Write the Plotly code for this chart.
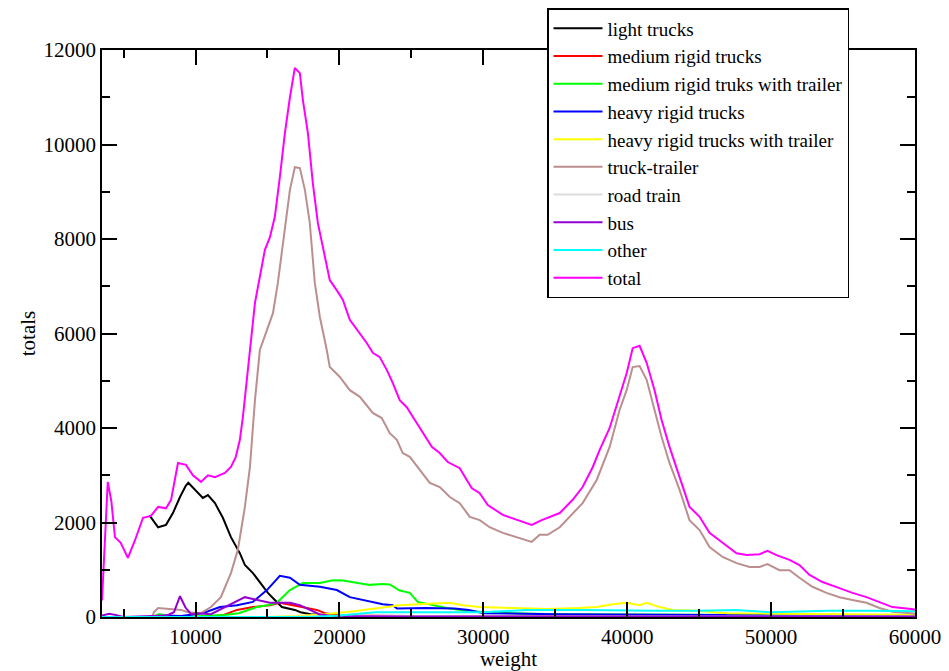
import plotly.graph_objects as go

# ---- data ----
total_w = [3500, 3700, 3900, 4150, 4400, 4800, 5300, 5800, 6350, 6900, 7400, 7950, 8300, 8780, 9330,
           9820, 10380, 10860, 11350, 12040, 12460, 12800, 13080, 13290, 13780, 14130, 14470, 14820,
           15170, 15510, 15860, 16210, 16560, 16900, 17250, 17460, 17810, 18150, 18500, 18990, 19330,
           19890, 20240, 20720, 21420, 21900, 22320, 22800, 23290, 23710, 24190, 24680, 25240, 25790,
           26420, 26970, 27530, 28360, 29190, 29750, 30310, 31350, 32390, 33360, 34060, 35310, 36210,
           36900, 37600, 38080, 38780, 39470, 39960, 40380, 40860, 41350, 41900, 42390, 42940, 43640,
           44330, 45030, 45720, 46630, 47600, 48300, 49200, 49750, 50375, 51280, 51970, 52670, 53570,
           54750, 55650, 56630, 57530, 58430, 59750, 60000]
total_v = [350, 1600, 2860, 2450, 1690, 1570, 1250, 1630, 2100, 2140, 2330, 2300, 2480, 3260, 3220,
           3000, 2860, 3000, 2960, 3050, 3175, 3390, 3750, 4230, 5650, 6650, 7200, 7770,
           8040, 8470, 9310, 10240, 11000, 11620, 11510, 10940, 10240, 9190, 8340, 7620, 7130,
           6880, 6710, 6290, 6010, 5800, 5590, 5500, 5230, 4950, 4590, 4440, 4170, 3890,
           3600, 3470, 3280, 3150, 2730, 2620, 2370, 2160, 2050, 1950, 2050, 2200, 2480,
           2750, 3170, 3530, 4000, 4700, 5160, 5690, 5740, 5380, 4800, 4170, 3600, 2960,
           2330, 2120, 1780, 1570, 1350, 1310, 1330, 1400, 1310, 1210, 1100, 890, 740,
           610, 510, 420, 320, 210, 170, 160]

tt_w = [7000, 7100, 7400, 8000, 9000, 9470, 10380, 11070, 11760, 12460, 12940, 13430, 13780, 14130,
        14470, 14960, 15380, 15720, 16070, 16560, 16900, 17250, 17600, 17940, 18290, 18640, 19120,
        19330, 20030, 20720, 21420, 22320, 22940, 23500, 23990, 24400, 24890, 25580, 26280, 26970,
        27670, 28360, 29060, 29750, 30440, 31350, 32390, 33360, 33920, 34470, 35310, 36210, 36900,
        37880, 38780, 39470, 39960, 40380, 40860, 41350, 41760, 42390, 42940, 43640, 44330, 45030,
        45720, 46630, 47600, 48500, 49200, 49750, 50580, 51280, 51970, 52870, 53850, 54750, 55650,
        56630, 57530, 58430, 59750, 60000]
tt_v = [0, 100, 190, 170, 150, 100, 80, 210, 420, 930, 1420, 2330, 3170, 4590,
        5650, 6070, 6430, 7070, 7920, 9040, 9520, 9500, 9040, 8340, 7070, 6350, 5650,
        5290, 5080, 4800, 4660, 4320, 4210, 3890, 3750, 3470, 3390, 3110, 2840, 2750,
        2540, 2410, 2120, 2050, 1900, 1780, 1690, 1590, 1740, 1740, 1900, 2200, 2410,
        2900, 3600, 4380, 4800, 5290, 5310, 5020, 4530, 3810, 3260, 2690, 2050, 1840,
        1480, 1270, 1140, 1060, 1060, 1120, 990, 990, 830, 640, 510, 420, 360,
        300, 190, 110, 80, 70]

light_w = [6800, 7400, 7950, 8430, 8920, 9330, 9500, 9960, 10510, 10860, 11350, 11900, 12460, 13080,
           13430, 13990, 14680, 15030, 15510, 16000, 16900, 17300, 18000, 19000, 20000]
light_v = [2150, 1900, 1950, 2200, 2540, 2780, 2840, 2690, 2520, 2580, 2410, 2100, 1690, 1350,
           1100, 930, 640, 510, 360, 210, 150, 100, 60, 40, 20]

med_w = [11000, 12000, 12880, 13990, 15170, 15860, 16760, 17460, 18430, 19000, 20000, 25000, 60000]
med_v = [0, 50, 150, 210, 250, 300, 250, 210, 150, 80, 30, 20, 20]

medtr_w = [7000, 7500, 8000, 10000, 11000, 12000, 13000, 14260, 15000, 15650, 16560, 17460, 18640,
           19540, 20240, 21210, 22110, 23010, 23500, 24190, 24890, 25440, 25790, 27460, 29000,
           32000, 35000, 40000, 50000, 60000]
medtr_v = [0, 60, 20, 10, 30, 40, 80, 210, 250, 300, 570, 720, 720,
           780, 770, 720, 680, 700, 690, 560, 510, 320, 300, 190, 120,
           80, 60, 50, 40, 30]

heavy_w = [3500, 7000, 8000, 9000, 10500, 11700, 12880, 13990, 14960, 15860, 16560, 17250, 18640,
           19820, 20720, 22110, 23010, 23700, 24000, 26000, 28000, 29000, 30000, 35000, 40000,
           45000, 50000, 55000, 60000]
heavy_v = [0, 0, 30, 20, 80, 210, 250, 320, 570, 870, 830, 680, 640,
           570, 420, 320, 270, 250, 180, 190, 180, 150, 80, 60, 50,
           40, 40, 30, 30]

heavytr_w = [15000, 17000, 19000, 21000, 23290, 24190, 25440, 27670, 28570, 29750, 32040, 34400,
             36690, 37880, 38990, 39960, 40860, 41350, 42250, 43150, 44820, 47000, 50000, 55000, 60000]
heavytr_v = [0, 20, 60, 120, 210, 250, 270, 300, 250, 210, 190, 170,
             190, 210, 270, 300, 250, 300, 210, 150, 130, 80, 70, 60, 50]

road_w = [3500, 15000, 20000, 25000, 30000, 40000, 50000, 60000]
road_v = [0, 0, 20, 20, 10, 10, 10, 10]

bus_w = [3500, 4000, 4500, 5000, 8000, 8500, 8920, 9300, 9700, 10170, 11070, 12040, 12740, 13430,
         13990, 15170, 15860, 16560, 17250, 17940, 18600, 19500, 25000, 60000]
bus_v = [30, 70, 40, 0, 30, 100, 440, 200, 60, 80, 60, 210, 320, 420,
         380, 300, 300, 300, 250, 150, 60, 20, 10, 10]

other_w = [3500, 18000, 20000, 21000, 22500, 30000, 33000, 37000, 40000, 42000, 45000, 47500,
           50000, 54000, 57000, 60000]
other_v = [0, 0, 30, 60, 100, 100, 150, 150, 130, 130, 130, 150, 100, 130, 130, 120]

series = [
    ("light trucks", light_w, light_v, "#000000"),
    ("medium rigid trucks", med_w, med_v, "#ff0000"),
    ("medium rigid truks with trailer", medtr_w, medtr_v, "#00ff00"),
    ("heavy rigid trucks", heavy_w, heavy_v, "#0000ff"),
    ("heavy rigid trucks with trailer", heavytr_w, heavytr_v, "#ffff00"),
    ("truck-trailer", tt_w, tt_v, "#bc8f8f"),
    ("road train", road_w, road_v, "#dcdcdc"),
    ("bus", bus_w, bus_v, "#9400d3"),
    ("other", other_w, other_v, "#00ffff"),
    ("total", total_w, total_v, "#ff00ff"),
]

FONT = "Liberation Serif, Times New Roman, serif"

# page body has an 8px default margin, so the figure is drawn 8px in from the top-left
OFF = 8
W, H = 949 - OFF, 671 - OFF

fig = go.Figure()
for name, xs, ys, col in series:
    fig.add_trace(go.Scatter(x=xs, y=ys, mode="lines", name=name,
                             line=dict(color=col, width=2)))

axis_common = dict(showline=True, linecolor="black", linewidth=1.5, mirror="allticks",
                   ticks="inside", ticklen=15, tickwidth=1.5, tickcolor="black",
                   showgrid=False, zeroline=False, automargin=False,
                   tickformat="d",
                   tickfont=dict(family=FONT, size=21, color="black"))

fig.update_layout(
    width=W, height=H,
    margin=dict(l=102 - OFF, r=34, t=50 - OFF, b=54, autoexpand=False),
    paper_bgcolor="white", plot_bgcolor="white",
    font=dict(family=FONT, size=21, color="black"),
    xaxis=dict(range=[3500, 60000], tick0=0, dtick=10000,
               minor=dict(ticks="inside", ticklen=8, dtick=5000, tick0=0, tickcolor="black", tickwidth=1.5),
               title=dict(text="weight", font=dict(family=FONT, size=21), standoff=0),
               **axis_common),
    yaxis=dict(range=[0, 12000], tick0=0, dtick=2000,
               minor=dict(ticks="inside", ticklen=8, dtick=1000, tick0=0, tickcolor="black", tickwidth=1.5),
               title=dict(text="totals", font=dict(family=FONT, size=21), standoff=2),
               **axis_common),
    legend=dict(xref="container", yref="container", x=(547 - OFF) / W, y=1.0,
                xanchor="left", yanchor="top",
                bgcolor="white", bordercolor="black", borderwidth=1.5,
                font=dict(family=FONT, size=19, color="black"),
                tracegroupgap=0, itemwidth=49),
    showlegend=True,
)

fig.write_html("out.html")
